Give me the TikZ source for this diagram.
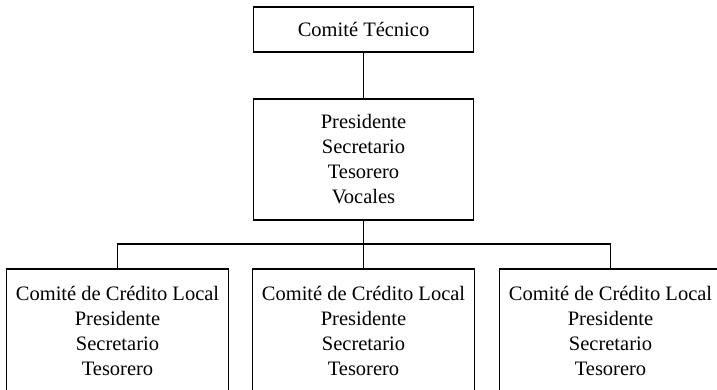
\documentclass[tikz,border=0pt]{standalone}
\usepackage{fontspec}
\setmainfont{Liberation Serif}
\begin{document}
\begin{tikzpicture}[x=1pt,y=-1pt,
  box/.style={draw,line width=1.6pt,inner sep=0pt,align=center,font=\fontsize{20.5}{25}\selectfont},
  link/.style={line width=1.6pt}]
\useasboundingbox (0,0) rectangle (717,389);
\node[box,minimum width=220,minimum height=45] (top) at (363.5,29.5) {Comité Técnico};
\node[box,minimum width=220,minimum height=121] (mid) at (363.5,159.5) {Presidente\\Secretario\\Tesorero\\Vocales};
\node[box,minimum width=222,minimum height=124,anchor=north] (l) at (117.5,268) {Comité de Crédito Local\\Presidente\\Secretario\\Tesorero};
\node[box,minimum width=222,minimum height=124,anchor=north] (c) at (363.5,268) {Comité de Crédito Local\\Presidente\\Secretario\\Tesorero};
\node[box,minimum width=222,minimum height=124,anchor=north] (r) at (610.5,268) {Comité de Crédito Local\\Presidente\\Secretario\\Tesorero};
\coordinate (bus) at (363.5,244);
\draw[link] (top.south) -- (mid.north);
\draw[link] (mid.south) -- (c.north);
\draw[link] (l.north) |- (bus) -| (r.north);
\end{tikzpicture}
\end{document}
